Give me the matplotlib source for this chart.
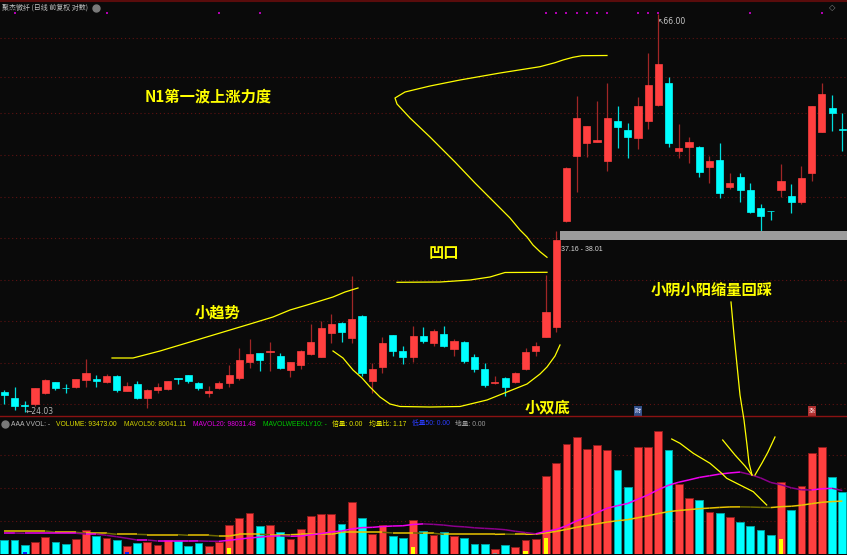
import numpy as np
import pandas as pd
import matplotlib
matplotlib.use('Agg')
import matplotlib.pyplot as plt
from matplotlib.lines import Line2D
from matplotlib.collections import LineCollection

# ---------------- data ----------------
opens = [25.24, 24.89, 24.44, 24.50, 25.17, 25.88, 25.54, 25.56, 26.04, 26.10,
         25.90, 26.31, 25.33, 25.78, 24.89, 25.37, 25.45, 26.19, 26.37, 25.84,
         25.21, 25.54, 25.86, 26.15, 27.26, 27.87, 27.96, 27.68, 26.71, 27.05,
         27.82, 27.63, 29.32, 30.07, 28.99, 30.64, 25.97, 26.94, 29.20, 28.06,
         27.58, 29.12, 28.59, 29.27, 28.20, 28.70, 27.58, 26.78, 25.82, 26.15,
         25.88, 26.80, 28.06, 29.07, 29.82, 39.03, 46.05, 47.51, 47.67, 45.46,
         50.28, 49.15, 48.20, 50.32, 52.38, 55.33, 46.60, 47.11, 47.11, 44.78,
         45.53, 42.56, 43.65, 42.20, 40.28, 40.01, 42.20, 41.54, 40.90, 44.03,
         48.95, 51.95, 49.28]
highs = [25.39, 25.60, 24.70, 25.50, 26.08, 25.92, 25.78, 26.10, 27.47, 26.37,
         26.44, 26.34, 25.88, 25.97, 25.45, 25.82, 25.99, 26.20, 26.39, 25.92,
         25.65, 25.95, 27.05, 28.23, 28.90, 27.90, 28.70, 27.91, 27.24, 28.11,
         30.03, 30.25, 30.78, 30.16, 33.92, 30.70, 27.17, 29.02, 29.22, 28.35,
         29.88, 29.78, 29.62, 29.83, 28.87, 28.74, 27.82, 27.17, 26.31, 26.26,
         26.59, 28.23, 28.66, 34.00, 38.01, 44.75, 53.59, 49.70, 52.91, 55.33,
         52.24, 50.00, 53.49, 59.81, 66.00, 56.19, 49.91, 48.33, 47.23, 46.05,
         47.51, 44.03, 44.03, 42.98, 40.73, 40.05, 45.09, 42.82, 44.86, 52.30,
         55.33, 53.72, 51.29]
lows = [24.50, 24.13, 24.03, 24.39, 25.12, 25.39, 25.21, 25.54, 25.56, 25.60,
        25.86, 25.28, 25.30, 24.83, 24.27, 25.17, 25.39, 25.76, 25.84, 25.39,
        24.92, 25.43, 25.60, 26.04, 26.87, 26.66, 26.64, 26.78, 26.26, 26.80,
        27.75, 27.58, 28.63, 28.66, 28.63, 26.31, 25.17, 26.52, 27.70, 27.10,
        27.28, 28.63, 28.35, 28.30, 27.70, 27.21, 26.59, 25.56, 25.76, 25.00,
        25.84, 26.71, 27.70, 29.03, 29.44, 38.95, 42.01, 45.93, 47.63, 44.32,
        46.92, 45.75, 46.84, 49.28, 52.30, 47.11, 45.75, 45.23, 43.65, 42.98,
        41.39, 42.28, 40.90, 39.78, 38.05, 39.11, 41.50, 39.78, 40.73, 43.17,
        48.84, 49.07, 46.60]
closes = [25.05, 24.39, 24.40, 25.50, 26.04, 25.54, 25.50, 26.08, 26.52, 25.97,
          26.31, 25.39, 25.65, 24.86, 25.39, 25.56, 25.97, 26.10, 26.00, 25.49,
          25.34, 25.82, 26.35, 27.40, 27.80, 27.40, 28.03, 26.83, 27.24, 28.03,
          28.70, 29.70, 30.05, 29.44, 30.41, 26.52, 26.78, 28.61, 28.06, 27.58,
          29.12, 28.77, 29.50, 28.39, 28.77, 27.33, 26.78, 25.71, 25.88, 25.60,
          26.52, 27.96, 28.38, 30.97, 37.16, 44.67, 50.71, 49.66, 47.96, 50.71,
          49.57, 48.25, 52.24, 55.09, 58.13, 47.58, 46.92, 47.67, 44.14, 45.39,
          41.90, 42.98, 42.20, 39.93, 39.54, 39.96, 43.17, 40.90, 43.48, 52.24,
          53.82, 51.29, 49.20]
volumes = [21100, 21100, 13100, 18600, 25700, 18600, 15100, 23100, 36700, 27200,
           24600, 21100, 12100, 16200, 17700, 14000, 21100, 19200, 12100, 16600,
           11600, 18100, 43800, 54800, 61900, 42300, 43800, 33200, 23100, 37800,
           57400, 60400, 60400, 45800, 78500, 54400, 30200, 43800, 27200, 24200,
           51300, 34700, 29400, 33200, 27200, 24200, 15100, 15100, 7600, 13100,
           10600, 21100, 22700, 118200, 137000, 166100, 176700, 159000, 164100, 156600,
           127300, 101200, 161600, 161600, 185700, 157000, 106200, 84600, 81500, 63400,
           61900, 55900, 48300, 42300, 36200, 28700, 108700, 66900, 102700, 153000,
           161600, 116300, 93473]
# moving-average values before enough bars are visible
ma20_head = [31700, 31700, 31300, 31300, 31300, 31300, 31300, 31300, 30200, 30200,
             28200, 26100, 23700, 21100, 21100, 19600, 19600, 19600, 19600]
ma50_head = [34700, 34700, 34700, 34700, 34700, 32800, 32800, 32800, 31300, 31300,
             31300, 29700, 29700, 29700, 29200, 29200, 29200, 29200, 28200, 28200,
             28200, 27200, 27200, 29700, 29700, 29700, 29200, 29200, 29200, 29700,
             29700, 29700, 29700, 32800, 32800, 32800, 32800, 32800, 31800, 31800,
             31800, 31300, 31300, 29700, 29700, 29700, 29700, 29700, 29700]
# indicator readouts printed in the volume header
mavol50_last = 80041.11
mavol20_last = 98031.48
vol_ratio_last = 1.17
double_vol_idx = [22, 40, 51, 53, 76]
double_vol_mark = [9000, 11000, 5000, 24600, 22700]
low_vol_idx = [2, 12]
low_vol_mark = [3000, 3000]
ground_vol_idx = [20, 48]
ground_vol_mark = [1500, 1500]
signal_idx = [1, 10, 21, 25, 53, 54, 55, 56, 57, 58, 59, 62, 63, 64, 73, 80]
grid_prices = [24.48, 27.20, 30.22, 33.55, 37.33, 41.49, 46.13, 51.28, 56.28, 62.05]
vol_grid = [50000, 100000, 150000]
band_low, band_high = 37.16, 38.01
stock_title = '聚杰微纤 (日线 前复权 对数)'

# ---------------- layout ----------------
W, H = 847, 555
BG = '#0a0a0a'
UP, DN = '#ff3f3f', '#00ffff'
UP_W, DN_W = '#a02626', '#00dede'
CJK = ['Noto Sans CJK SC', 'DejaVu Sans']
LAT = ['Liberation Sans', 'DejaVu Sans']

fig = plt.figure(figsize=(W / 100, H / 100), dpi=100, facecolor=BG)


def fx(px):
    return px / W


def fy(py):
    return 1 - py / H


def ftext(px, py, s, color, size, family=LAT, ha='left', **kw):
    fig.text(fx(px), fy(py), s, color=color, fontsize=size, family=family,
             ha=ha, va='center', **kw)


def fline(pts, color='#ffff00', lw=0.9):
    xs = [fx(p[0]) for p in pts]
    ys = [fy(p[1]) for p in pts]
    fig.add_artist(Line2D(xs, ys, color=color, lw=lw, transform=fig.transFigure, zorder=10))


n = len(opens)
x = np.arange(n)
o, h, l, c = map(np.array, (opens, highs, lows, closes))
up = c >= o
XMIN, XMAX = -4.3 / 10.22, (W - 4.3) / 10.22

# ---------------- price panel ----------------
ax = fig.add_axes([0, fy(416), 1, (416 - 8) / H])
ax.set_facecolor(BG)
ax.set_yscale('log')
ax.set_ylim(23.76, 67.01)
ax.set_xlim(XMIN, XMAX)
ax.axis('off')
for gp in grid_prices:
    ax.axhline(gp, color='#5e1212', lw=0.8, ls=(0, (1, 2.5)), zorder=0)

ax.vlines(x, l, h, colors=[UP_W if u else DN_W for u in up], lw=0.9, zorder=2)
body_cols = [UP if u else DN for u in up]
ax.bar(x, np.abs(c - o), bottom=np.minimum(o, c), width=0.7, color=body_cols,
       edgecolor=body_cols, lw=0.5, zorder=3)

# band at the breakout candle
ax.fill_between([54 + 0.37, XMAX], band_low, band_high, color='#9c9c9c', lw=0, zorder=4)
ax.text(54 + 0.45, band_low * 0.985, f'{band_low:.2f} - {band_high:.2f}', color='#d8d8d8',
        fontsize=5, family=LAT, va='top', ha='left', zorder=5)

# signal dots at top
ax.scatter(signal_idx, [0.987] * len(signal_idx), transform=ax.get_xaxis_transform(),
           s=2.5, color='#b000b0', marker='s', lw=0, zorder=5)

# extreme labels
imax = int(np.argmax(h))
imin = int(np.argmin(l))
ax.text(imax - 0.05, h[imax] * 0.993, f'↖{h[imax]:.2f}', color='#c8c8c8', fontsize=5.5,
        family=['DejaVu Sans'], ha='left', va='top', zorder=6)
ax.text(imin + 0.05, l[imin], f'←{l[imin]:.2f}', color='#b4b4b4', fontsize=5.5,
        family=['DejaVu Sans'], ha='left', va='center', zorder=6)

# small flags at panel bottom
ax.text(62, 24.05, '财', color='#e0e0ff', fontsize=4.5, family=CJK, ha='center', va='center',
        bbox=dict(boxstyle='square,pad=0.15', fc='#33508a', ec='none'), zorder=6)
ax.text(79, 24.05, '涨', color='#ffe0e0', fontsize=4.5, family=CJK, ha='center', va='center',
        bbox=dict(boxstyle='square,pad=0.15', fc='#b03030', ec='none'), zorder=6)

# ---------------- volume panel ----------------
VPX = 1510.0
axv = fig.add_axes([0, fy(554), 1, (554 - 417) / H])
axv.set_facecolor(BG)
axv.set_xlim(XMIN, XMAX)
axv.set_ylim(0, 137 * VPX)
axv.axis('off')
for g in vol_grid:
    axv.axhline(g, color='#5e1212', lw=0.8, ls=(0, (1, 2.5)), zorder=0)
edge_cols = ['#8e1c1c' if u else '#00a0a0' for u in up]
axv.bar(x, volumes, width=0.76, color=body_cols, edgecolor=edge_cols, lw=0.7, zorder=2)
axv.bar(double_vol_idx, double_vol_mark, width=0.4, color='#ffff00', lw=0, zorder=4)
axv.bar(low_vol_idx, low_vol_mark, width=0.4, color='#1020ff', lw=0, zorder=4)
axv.bar(ground_vol_idx, ground_vol_mark, width=0.4, color='#909090', lw=0, zorder=4)

vol = pd.Series(volumes, dtype=float)
ma20 = vol.rolling(20).mean().to_numpy()
ma20[:len(ma20_head)] = ma20_head
ma50 = vol.rolling(50).mean().to_numpy()
ma50[:len(ma50_head)] = ma50_head


def dir_line(axis, vals, c_up, c_dn, z):
    segs = [[(i, vals[i]), (i + 1, vals[i + 1])] for i in range(len(vals) - 1)]
    cols = [c_up if vals[i + 1] >= vals[i] else c_dn for i in range(len(vals) - 1)]
    axis.add_collection(LineCollection(segs, colors=cols, lw=1.1, zorder=z))


dir_line(axv, ma50, '#e8c400', '#6e6a00', 5)
dir_line(axv, ma20, '#f000f0', '#8c008c', 6)

# ---------------- frame lines & header texts ----------------
fig.add_artist(Line2D([0, 1], [fy(1), fy(1)], color='#5a0c0c', lw=1.5, transform=fig.transFigure))
fig.add_artist(Line2D([0, 1], [fy(416.3), fy(416.3)], color='#8a1212', lw=1.0, transform=fig.transFigure))

ftext(2, 8, stock_title, '#c4c4c4', 5.0, family=CJK)
fig.add_artist(Line2D([fx(96)], [fy(8)], marker='o', markersize=5, color='#7a7a7a', lw=0,
                      transform=fig.transFigure))
ftext(832, 8, '◇', '#8a8a8a', 6, family=['DejaVu Sans'], ha='center')

fig.add_artist(Line2D([fx(5)], [fy(424)], marker='o', markersize=5, color='#7a7a7a', lw=0,
                      transform=fig.transFigure))
last = n - 1
header = [
    (11, 'AAA VVOL: -', '#bcbcbc'),
    (56, f'VOLUME: {volumes[last]:.2f}', '#dede00'),
    (124, f'MAVOL50: {mavol50_last:.2f}', '#c8c800'),
    (193, f'MAVOL20: {mavol20_last:.2f}', '#e000e0'),
    (263, 'MAVOLWEEKLY10: -', '#00c800'),
    (332, '倍量: 0.00', '#e6e600'),
    (369, f'均量比: {vol_ratio_last:.2f}', '#e6e600'),
    (412, '低量50: 0.00', '#2a3cff'),
    (455, '地量: 0.00', '#9a9a9a'),
]
for px, s, col in header:
    ftext(px, 424, s, col, 4.9, family=['Liberation Sans', 'Noto Sans CJK SC'])

# ---------------- hand-drawn annotations ----------------
YEL = '#ffff00'
for px, py, s in [(208, 96, 'N1第一波上涨力度'), (444, 253, '凹口'), (217, 313, '小趋势'),
                  (547, 408, '小双底'), (712, 290, '小阴小阳缩量回踩')]:
    ftext(px, py, s, YEL, 11, family=CJK, ha='center', weight='bold')

fline([(112, 358), (133, 358), (160, 351), (190, 342), (220, 333), (250, 324), (273, 317),
       (290, 310), (307, 305), (333, 297), (345, 292), (358, 288)])
fline([(397, 282.3), (440, 282), (470, 280), (490, 277), (505, 272.5), (547, 272.3)])
fline([(607, 55.5), (582, 55.7), (573, 57.3), (563, 60), (555, 62.7), (540, 66.7), (500, 73),
       (460, 80), (430, 86), (405, 92), (395, 98), (397, 104), (410, 118), (430, 137),
       (455, 162), (475, 183), (495, 203), (510, 218), (520, 230), (527, 237), (533, 245),
       (540, 251.7), (547, 257.3)])
fline([(333, 351), (343, 358), (353, 370), (362, 378), (370, 387), (380, 397), (390, 404),
       (400, 406.5), (430, 407), (460, 406.5), (487, 400), (507, 392), (527, 384),
       (540, 374), (547, 367), (555, 356), (560, 345)])
fline([(731, 302), (734, 335), (737, 365), (740, 395), (744, 420), (747, 445), (749, 463),
       (752, 475)])
fline([(722.7, 440), (735, 455), (745, 466), (752, 475)])
fline([(775, 437), (768, 452), (762, 463), (755, 475)])
fline([(671.7, 439), (680, 443.3), (693.3, 453.3), (710, 463.3), (721.7, 473.3),
       (726.7, 478.3), (740, 485), (753.3, 491.7), (766.7, 505)])

fig.savefig('out.png', dpi=100, facecolor=BG)
